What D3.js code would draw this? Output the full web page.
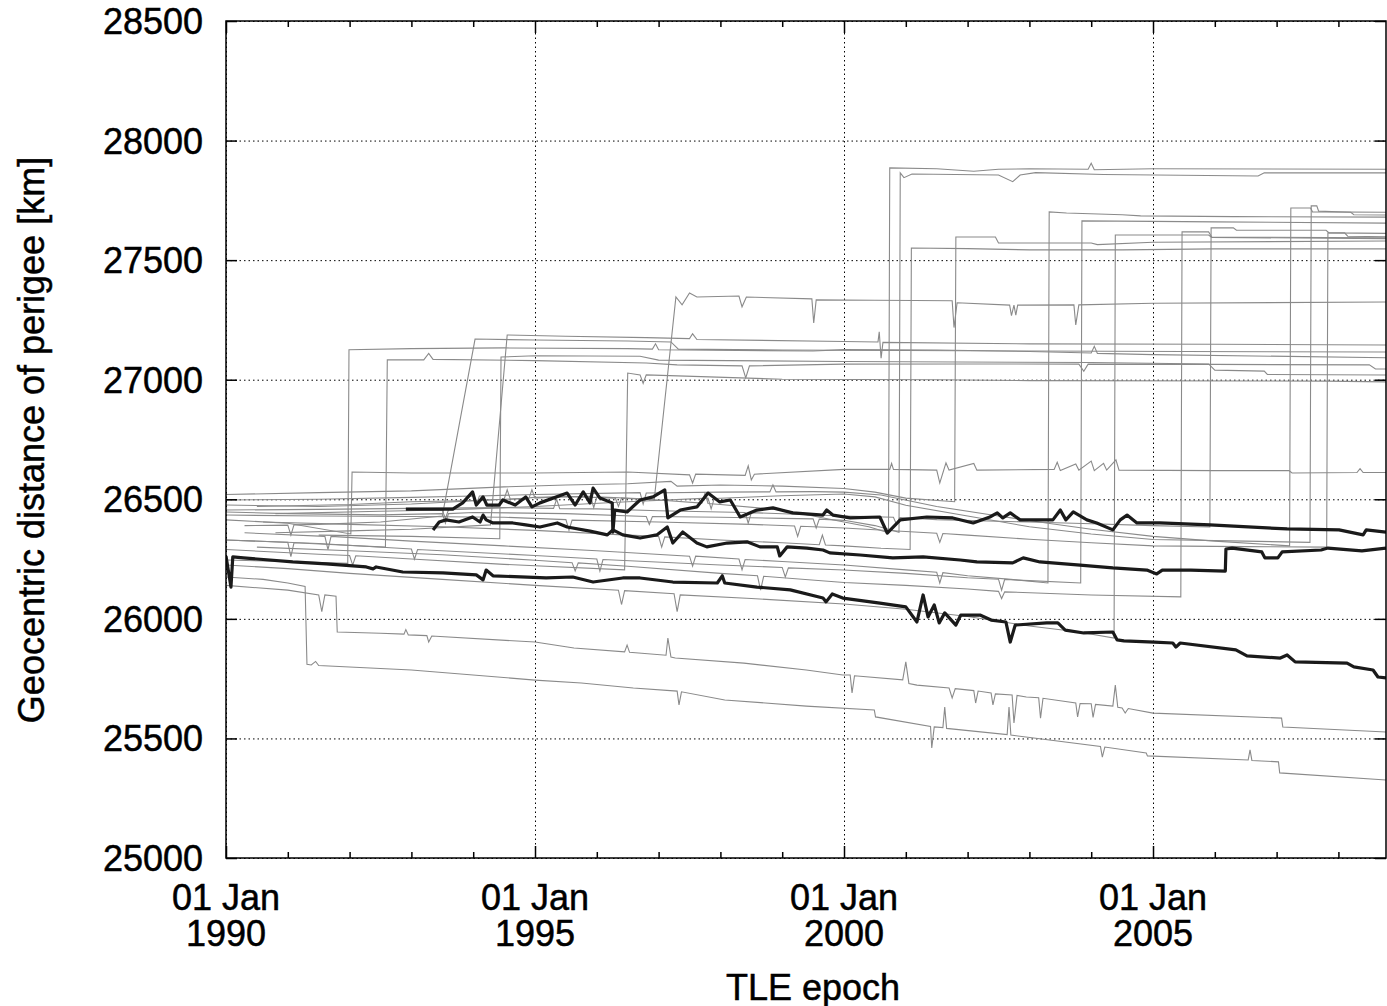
<!DOCTYPE html>
<html>
<head>
<meta charset="utf-8">
<script src="https://cdn.jsdelivr.net/npm/d3@7"></script>
<style>
body { margin: 0; background: #fff; }
text { font-family: "Liberation Sans", Arial, Helvetica, sans-serif; fill: #000; stroke: #000; stroke-width: 0.5px; }
</style>
</head>
<body>
<svg id="chart" width="1387" height="1006"></svg>
<script>
// perigee distance per satellite: [decimal year, km]
const sat01 = [[1990.0,26476],[1991.5,26470],[1993.0,26480],[1994.5,26500],[1994.9,26503],[1994.95,26540],[1995.0,26505],[1995.5,26512],[1996.3,26505],[1996.35,26470],[1996.4,26505],[1997.0,26497],[1997.7,26484],[1997.75,26525],[1997.8,26482],[1998.0,26478],[1999.0,26455],[2000.0,26405],[2000.4,26385],[2000.72,26360],[2000.74,27886],[2001.5,27882],[2002.1,27872],[2002.5,27880],[2003.0,27882],[2003.95,27880],[2004.0,27905],[2004.05,27878],[2005.0,27882],[2008.77,27880]];
const sat02 = [[1990.0,26447],[1991.0,26440],[1992.5,26435],[1993.5,26440],[1993.55,26400],[1993.6,26440],[1994.0,26445],[1995.5,26440],[1996.8,26428],[1996.85,26395],[1996.9,26428],[1998.0,26425],[1999.0,26420],[1999.5,26418],[1999.55,26380],[1999.6,26417],[2000.0,26412],[2000.5,26390],[2000.89,26362],[2000.91,27865],[2000.97,27845],[2001.1,27860],[2002.5,27856],[2002.73,27828],[2002.85,27856],[2003.1,27866],[2004.2,27858],[2006.7,27852],[2006.8,27865],[2008.77,27865]];
const sat03 = [[1990.6,26405],[1992.0,26395],[1993.5,26385],[1995.0,26370],[1996.5,26350],[1997.0,26345],[1997.05,26300],[1997.1,26343],[1998.0,26330],[1999.0,26318],[1999.6,26310],[1999.65,26350],[1999.7,26309],[2000.0,26305],[2000.6,26295],[2001.07,26290],[2001.09,27551],[2002.0,27548],[2003.0,27543],[2004.5,27543],[2006.0,27547],[2008.77,27547]];
const sat04 = [[1990.0,26520],[1991.5,26528],[1993.0,26535],[1994.5,26552],[1995.5,26560],[1996.5,26565],[1997.2,26575],[1997.3,26555],[1998.0,26560],[1999.0,26555],[2000.0,26545],[2000.5,26530],[2001.0,26505],[2001.79,26490],[2001.81,27597],[2002.45,27597],[2002.5,27572],[2004.0,27572],[2004.1,27565],[2005.0,27575],[2008.77,27580]];
const sat05 = [[1990.3,26360],[1991.6,26345],[1991.65,26290],[1991.7,26345],[1993.0,26325],[1994.5,26305],[1996.0,26285],[1997.5,26262],[1997.55,26220],[1997.6,26262],[1998.3,26250],[1998.35,26205],[1998.4,26248],[1999.0,26240],[2000.0,26225],[2001.0,26205],[2001.5,26195],[2001.55,26150],[2001.6,26193],[2002.0,26180],[2002.7,26165],[2003.3,26150],[2003.32,27702],[2003.6,27697],[2004.5,27690],[2004.8,27685],[2006.3,27682],[2008.77,27680]];
const sat06 = [[1990.0,26330],[1991.5,26315],[1993.0,26292],[1993.05,26250],[1993.1,26290],[1995.0,26265],[1996.0,26250],[1996.05,26200],[1996.1,26248],[1998.0,26225],[1999.0,26215],[1999.05,26175],[1999.1,26213],[2000.0,26204],[2001.0,26190],[2002.0,26172],[2002.5,26166],[2002.55,26120],[2002.6,26165],[2003.0,26160],[2003.83,26150],[2003.85,27664],[2005.0,27662],[2006.0,27660],[2008.77,27655]];
const sat07 = [[1990.0,26225],[1991.0,26210],[1992.0,26190],[1993.5,26165],[1995.0,26140],[1996.35,26120],[1996.4,26060],[1996.45,26118],[1997.25,26105],[1997.3,26030],[1997.35,26100],[1998.5,26085],[2000.0,26062],[2001.0,26040],[2002.0,26010],[2003.0,25970],[2003.8,25945],[2004.37,25920],[2004.39,27605],[2005.9,27605],[2005.95,27595],[2008.77,27590]];
const sat08 = [[1990.5,26300],[1992.0,26285],[1993.5,26268],[1995.0,26245],[1995.6,26235],[1995.65,26200],[1995.7,26234],[1996.5,26220],[1998.0,26190],[1998.6,26180],[1998.65,26120],[1998.7,26178],[2000.0,26152],[2001.0,26140],[2002.0,26125],[2002.5,26115],[2002.55,26085],[2002.6,26113],[2004.0,26100],[2005.45,26092],[2005.47,27618],[2005.9,27618],[2005.95,27597],[2008.77,27593]];
const sat09 = [[1990.0,26455],[1991.5,26458],[1993.0,26462],[1994.5,26465],[1995.3,26462],[1995.35,26500],[1995.4,26461],[1996.0,26460],[1997.0,26452],[1998.4,26445],[1998.45,26400],[1998.5,26444],[2000.0,26430],[2000.8,26425],[2000.85,26395],[2000.9,26424],[2001.5,26415],[2003.0,26405],[2004.0,26398],[2005.0,26390],[2005.92,26384],[2005.94,27635],[2006.3,27635],[2006.35,27625],[2007.8,27625],[2007.85,27614],[2008.77,27612]];
const sat10 = [[1990.0,26497],[1991.5,26500],[1993.0,26508],[1994.0,26514],[1994.05,26475],[1994.1,26514],[1995.0,26520],[1996.7,26528],[1996.75,26480],[1996.8,26526],[1998.0,26530],[1998.8,26531],[1998.85,26560],[1998.9,26531],[1999.5,26532],[2000.0,26530],[2000.6,26518],[2001.5,26470],[2002.5,26430],[2003.3,26400],[2004.0,26375],[2005.0,26345],[2006.0,26325],[2007.21,26305],[2007.23,27718],[2007.55,27718],[2007.58,27702],[2008.77,27700]];
const sat11 = [[1990.8,26440],[1992.5,26450],[1993.5,26455],[1993.55,26420],[1993.6,26456],[1994.0,26460],[1995.0,26470],[1996.5,26490],[1997.8,26505],[1997.85,26460],[1997.9,26503],[1999.0,26515],[2000.0,26522],[2000.5,26510],[2001.0,26475],[2002.0,26430],[2003.0,26385],[2004.0,26355],[2005.0,26332],[2006.5,26325],[2007.54,26320],[2007.56,27727],[2007.65,27727],[2007.68,27705],[2008.2,27700],[2008.25,27690],[2008.77,27689]];
const sat12 = [[1990.0,26434],[1991.5,26430],[1993.0,26428],[1994.5,26425],[1995.5,26415],[1995.55,26370],[1995.6,26413],[1997.0,26405],[1998.5,26395],[1999.2,26388],[1999.25,26345],[1999.3,26387],[2000.0,26380],[2001.0,26365],[2001.5,26358],[2001.55,26320],[2001.6,26357],[2002.0,26350],[2003.0,26333],[2004.0,26318],[2005.0,26305],[2006.5,26302],[2007.81,26300],[2007.83,27614],[2008.1,27614],[2008.15,27600],[2008.77,27598]];
const sat13 = [[1990.5,26470],[1992.0,26478],[1993.0,26490],[1994.0,26495],[1994.5,26500],[1994.55,26540],[1994.6,26500],[1995.0,26508],[1995.9,26512],[1995.95,26465],[1996.0,26510],[1996.93,26500],[1997.28,27346],[1997.38,27313],[1997.5,27363],[1997.62,27346],[1998.3,27350],[1998.35,27305],[1998.42,27346],[1999.48,27338],[1999.51,27237],[1999.55,27334],[2000.5,27332],[2001.75,27330],[2001.78,27218],[2001.83,27322],[2002.68,27312],[2002.71,27268],[2002.75,27312],[2002.78,27270],[2002.81,27312],[2003.72,27313],[2003.75,27229],[2003.8,27313],[2005.0,27320],[2008.77,27325]];
const sat14 = [[1990.3,26390],[1991.0,26392],[1991.05,26350],[1991.1,26393],[1991.5,26395],[1992.5,26405],[1993.5,26430],[1994.03,27170],[1995.0,27166],[1996.5,27162],[1997.2,27158],[1997.32,27128],[1999.0,27124],[2001.0,27122],[2003.0,27120],[2005.5,27118],[2008.77,27116]];
const sat15 = [[1990.8,26360],[1992.0,26368],[1993.0,26375],[1994.28,26393],[1994.55,27187],[1995.5,27182],[1996.8,27176],[1997.5,27172],[1997.55,27192],[1997.62,27168],[2000.0,27160],[2000.55,27158],[2000.57,27200],[2000.6,27090],[2000.63,27156],[2003.0,27150],[2006.0,27148],[2008.77,27145]];
const sat16 = [[1990.0,26330],[1991.0,26320],[1991.05,26260],[1991.1,26318],[1992.58,26300],[1992.61,27083],[1993.2,27083],[1993.28,27110],[1993.35,27085],[1995.0,27080],[1996.8,27070],[1997.3,27062],[1998.35,27058],[1998.41,27008],[1998.47,27058],[2000.0,27065],[2002.0,27066],[2003.8,27065],[2003.88,27035],[2003.95,27065],[2006.0,27064],[2008.5,27062],[2008.6,27045],[2008.77,27045]];
const sat17 = [[1991.5,26350],[1993.0,26345],[1994.43,26335],[1994.45,27095],[1995.0,27100],[1996.7,27098],[1997.0,27082],[2000.0,27076],[2004.0,27072],[2005.9,27066],[2006.0,27040],[2006.8,27036],[2006.85,27022],[2008.77,27020]];
const sat18 = [[1990.0,26290],[1991.5,26270],[1992.0,26265],[1992.05,26225],[1992.1,26264],[1993.0,26250],[1994.5,26228],[1996.45,26205],[1996.5,27028],[1996.7,27020],[1996.75,26985],[1996.8,27020],[1999.0,27002],[2001.5,27000],[2003.0,26996],[2007.8,26994],[2008.77,26991]];
const sat19 = [[1990.0,26246],[1991.0,26240],[1991.97,26232],[1991.99,27125],[1993.0,27130],[1994.5,27133],[1996.5,27130],[1996.9,27128],[1996.95,27150],[1997.0,27125],[1999.5,27120],[2000.0,27126],[2001.5,27124],[2003.0,27118],[2004.0,27112],[2004.05,27140],[2004.1,27110],[2005.0,27105],[2008.77,27092]];
const sat20 = [[1990.0,26414],[1991.0,26400],[1992.02,26355],[1992.04,26614],[1993.0,26610],[1995.0,26610],[1996.5,26614],[1997.5,26602],[1997.55,26568],[1997.6,26605],[1998.4,26600],[1998.45,26640],[1998.5,26581],[1998.55,26605],[2000.0,26625],[2000.74,26625],[2000.77,26650],[2000.8,26625],[2001.5,26622],[2001.55,26568],[2001.65,26652],[2001.7,26622],[2002.1,26650],[2002.15,26622],[2003.4,26625],[2003.45,26655],[2003.5,26620],[2003.75,26648],[2003.8,26622],[2004.0,26660],[2004.05,26620],[2004.2,26650],[2004.25,26622],[2004.4,26665],[2004.45,26622],[2006.0,26620],[2007.2,26620],[2007.25,26610],[2008.3,26612],[2008.35,26628],[2008.4,26612],[2008.77,26612]];
const sat21 = [[1990.0,26175],[1990.6,26165],[1991.0,26150],[1991.28,26135],[1991.31,25810],[1991.38,25807],[1991.45,25822],[1991.5,25805],[1993.0,25786],[1995.0,25744],[1995.75,25732],[1996.59,25711],[1997.3,25698],[1997.33,25640],[1997.37,25695],[1998.07,25661],[1999.39,25635],[2000.49,25619],[2000.51,25590],[2001.4,25550],[2001.42,25460],[2001.46,25548],[2001.6,25545],[2001.63,25631],[2001.66,25542],[2002.64,25516],[2002.67,25631],[2002.7,25514],[2004.15,25466],[2004.18,25422],[2004.22,25464],[2004.89,25439],[2004.91,25427],[2006.54,25410],[2006.57,25452],[2006.6,25408],[2007.03,25402],[2007.05,25356],[2008.77,25326]];
const sat22 = [[1990.0,26140],[1991.0,26120],[1991.5,26100],[1991.55,26030],[1991.6,26100],[1991.78,26095],[1991.8,25945],[1992.5,25940],[1992.88,25936],[1992.91,25955],[1992.95,25933],[1993.25,25930],[1993.28,25903],[1993.33,25928],[1995.0,25903],[1995.63,25878],[1996.45,25862],[1996.49,25890],[1996.53,25860],[1997.12,25848],[1997.15,25920],[1997.2,25840],[1997.27,25836],[1998.38,25815],[1999.39,25786],[1999.98,25765],[2000.1,25765],[2000.13,25690],[2000.17,25762],[2000.95,25745],[2001.0,25820],[2001.05,25730],[2001.18,25723],[2001.7,25711],[2001.75,25669],[2001.8,25708],[2002.1,25700],[2002.13,25648],[2002.17,25698],[2002.38,25690],[2002.41,25640],[2002.45,25686],[2002.72,25682],[2002.75,25565],[2002.8,25680],[2002.95,25673],[2003.15,25670],[2003.18,25585],[2003.22,25668],[2003.75,25648],[2003.78,25590],[2003.82,25646],[2004.0,25645],[2004.03,25588],[2004.07,25642],[2004.35,25635],[2004.39,25723],[2004.43,25630],[2004.5,25627],[2004.55,25606],[2004.6,25625],[2005.0,25606],[2007.08,25585],[2007.1,25548],[2008.77,25527]];

// highlighted satellites (thick black)
const blackHigh = [[1992.91,26459],[1993.67,26459],[1993.83,26485],[1993.99,26531],[1994.05,26476],[1994.16,26510],[1994.22,26476],[1994.42,26476],[1994.48,26497],[1994.68,26476],[1994.85,26510],[1994.95,26468],[1995.08,26485],[1995.52,26526],[1995.65,26476],[1995.78,26531],[1995.89,26485],[1995.94,26547],[1996.05,26505],[1996.25,26485],[1996.26,26363],[1996.29,26455],[1996.49,26447],[1996.7,26497],[1996.91,26510],[1997.1,26539],[1997.15,26422],[1997.35,26455],[1997.62,26468],[1997.8,26526],[1997.99,26489],[1998.16,26497],[1998.32,26426],[1998.59,26455],[1998.85,26464],[1999.17,26443],[1999.66,26434],[1999.72,26455],[1999.82,26434],[2000.1,26422],[2000.58,26426],[2000.7,26359],[2000.91,26414],[2001.34,26426],[2001.76,26422],[2002.09,26401],[2002.36,26426],[2002.48,26443],[2002.57,26422],[2002.69,26443],[2002.85,26414],[2003.38,26414],[2003.5,26455],[2003.59,26414],[2003.71,26447],[2003.93,26414],[2004.09,26401],[2004.35,26372],[2004.47,26414],[2004.58,26434],[2004.74,26401],[2005.11,26401],[2005.92,26393],[2007.17,26376],[2008.01,26372],[2008.4,26351],[2008.45,26372],[2008.77,26363]];
const blackMid = [[1993.35,26372],[1993.45,26405],[1993.56,26414],[1993.77,26405],[1993.99,26426],[1994.11,26405],[1994.16,26434],[1994.21,26414],[1994.32,26401],[1994.64,26401],[1994.85,26393],[1995.08,26384],[1995.36,26401],[1995.52,26384],[1995.89,26367],[1996.17,26351],[1996.26,26372],[1996.42,26351],[1996.7,26338],[1996.97,26351],[1997.14,26384],[1997.23,26317],[1997.39,26363],[1997.62,26317],[1997.78,26301],[1998.11,26317],[1998.43,26322],[1998.64,26301],[1998.92,26301],[1998.96,26263],[1999.08,26301],[1999.4,26296],[1999.66,26288],[1999.77,26276],[2000.26,26267],[2000.79,26255],[2001.28,26259],[2001.88,26246],[2002.15,26238],[2002.73,26234],[2002.9,26255],[2003.17,26238],[2003.82,26225],[2004.35,26213],[2004.9,26204],[2005.06,26188],[2005.15,26204],[2005.61,26204],[2006.17,26200],[2006.18,26292],[2006.28,26296],[2006.76,26280],[2006.81,26255],[2007.02,26255],[2007.09,26280],[2007.72,26288],[2007.83,26296],[2008.38,26284],[2008.77,26296]];
const blackLow = [[1990.0,26263],[1990.08,26133],[1990.11,26259],[1990.28,26255],[1991.08,26238],[1991.62,26230],[1992.27,26217],[1992.38,26209],[1992.43,26217],[1992.86,26196],[1993.51,26192],[1994.05,26184],[1994.16,26163],[1994.21,26204],[1994.32,26180],[1995.18,26171],[1995.61,26175],[1995.94,26154],[1996.42,26171],[1996.7,26171],[1997.23,26154],[1997.95,26150],[1998.03,26180],[1998.07,26150],[1998.59,26133],[1999.13,26121],[1999.66,26087],[1999.71,26071],[1999.81,26104],[1999.98,26087],[2000.58,26066],[2001.0,26050],[2001.18,25987],[2001.28,26100],[2001.36,26008],[2001.46,26058],[2001.54,25983],[2001.63,26025],[2001.81,25974],[2001.89,26016],[2002.2,26016],[2002.38,25995],[2002.62,25987],[2002.69,25903],[2002.77,25974],[2003.28,25983],[2003.46,25983],[2003.58,25953],[2003.88,25941],[2004.35,25945],[2004.42,25912],[2004.53,25908],[2005.02,25903],[2005.32,25899],[2005.37,25882],[2005.44,25899],[2006.34,25870],[2006.52,25845],[2007.06,25836],[2007.17,25849],[2007.3,25820],[2008.14,25815],[2008.25,25799],[2008.56,25786],[2008.64,25757],[2008.77,25753]];

const graySats = [sat01, sat02, sat03, sat04, sat05, sat06, sat07, sat08, sat09, sat10, sat11,
	sat12, sat13, sat14, sat15, sat16, sat17, sat18, sat19, sat20, sat21, sat22];
const blackSats = [blackHigh, blackMid, blackLow];

const yTicks = [25000, 25500, 26000, 26500, 27000, 27500, 28000, 28500];
const majorYears = [1990, 1995, 2000, 2005];
const minorYears = [1991, 1992, 1993, 1994, 1996, 1997, 1998, 1999, 2001, 2002, 2003, 2004, 2006, 2007, 2008];
const yearLabels = [['01 Jan', '1990'], ['01 Jan', '1995'], ['01 Jan', '2000'], ['01 Jan', '2005']];

const plotLeft = 226, plotTop = 21, plotW = 1160, plotH = 837;

let x = d3.scaleLinear().domain([1990, 2008.77]).range([0, plotW]);
let y = d3.scaleLinear().domain([25000, 28500]).range([plotH, 0]);

let svg = d3.select('#chart');
let g = svg.append('g').attr('transform', `translate(${plotLeft},${plotTop})`);

g.append('clipPath').attr('id', 'clip')
		.append('rect').attr('width', plotW).attr('height', plotH);

// dotted grid
g.append('g')
		.call(d3.axisLeft(y).tickValues(yTicks).tickSize(-plotW).tickFormat(''))
		.call(s => s.select('.domain').remove())
		.selectAll('line')
		.attr('stroke', '#000')
		.attr('stroke-dasharray', '1.5,3');

g.append('g')
		.attr('transform', `translate(0,${plotH})`)
		.call(d3.axisBottom(x).tickValues(majorYears).tickSize(-plotH).tickFormat(''))
		.call(s => s.select('.domain').remove())
		.selectAll('line')
		.attr('stroke', '#000')
		.attr('stroke-dasharray', '1.5,3');

let lineGen = d3.line()
		.x(d => x(d[0]))
		.y(d => y(d[1]));

let plot = g.append('g').attr('clip-path', 'url(#clip)');

plot.selectAll('.gray')
		.data(graySats)
		.enter()
		.append('path')
		.attr('class', 'gray')
		.attr('d', lineGen)
		.attr('fill', 'none')
		.attr('stroke', '#8a8a8a')
		.attr('stroke-width', 1.1);

plot.selectAll('.black')
		.data(blackSats)
		.enter()
		.append('path')
		.attr('class', 'black')
		.attr('d', lineGen)
		.attr('fill', 'none')
		.attr('stroke', '#1a1a1a')
		.attr('stroke-width', 3.2)
		.attr('stroke-linejoin', 'round');

// frame ticks (inside, mirrored)
function tickAxis(axis, tx, ty, size) {
	g.append('g')
			.attr('transform', `translate(${tx},${ty})`)
			.call(axis.tickSize(-size).tickFormat(''))
			.call(s => s.select('.domain').remove())
			.selectAll('line')
			.attr('stroke', '#000')
			.attr('stroke-width', 1.5);
}
tickAxis(d3.axisLeft(y).tickValues(yTicks), 0, 0, 11);
tickAxis(d3.axisRight(y).tickValues(yTicks), plotW, 0, 11);
tickAxis(d3.axisBottom(x).tickValues(majorYears), 0, plotH, 12);
tickAxis(d3.axisBottom(x).tickValues(minorYears), 0, plotH, 6);
tickAxis(d3.axisTop(x).tickValues(majorYears), 0, 0, 12);
tickAxis(d3.axisTop(x).tickValues(minorYears), 0, 0, 6);

g.append('rect')
		.attr('width', plotW)
		.attr('height', plotH)
		.attr('fill', 'none')
		.attr('stroke', '#000')
		.attr('stroke-width', 1.5);

// tick labels
g.selectAll('.ylab')
		.data(yTicks)
		.enter()
		.append('text')
		.attr('x', -23)
		.attr('y', d => y(d) + 13)
		.attr('text-anchor', 'end')
		.style('font-size', '36px')
		.text(d => d);

// two-line date labels
g.selectAll('.xlab1')
		.data(majorYears)
		.enter()
		.append('text')
		.attr('x', d => x(d))
		.attr('y', plotH + 52)
		.attr('text-anchor', 'middle')
		.style('font-size', '36px')
		.text((d, i) => yearLabels[i][0]);

g.selectAll('.xlab2')
		.data(majorYears)
		.enter()
		.append('text')
		.attr('x', d => x(d))
		.attr('y', plotH + 88)
		.attr('text-anchor', 'middle')
		.style('font-size', '36px')
		.text((d, i) => yearLabels[i][1]);

svg.append('text')
		.attr('x', 813)
		.attr('y', 1000)
		.attr('text-anchor', 'middle')
		.style('font-size', '36px')
		.text('TLE epoch');

svg.append('text')
		.attr('transform', 'translate(44,440) rotate(-90)')
		.attr('text-anchor', 'middle')
		.style('font-size', '36px')
		.text('Geocentric distance of perigee [km]');
</script>
</body>
</html>
